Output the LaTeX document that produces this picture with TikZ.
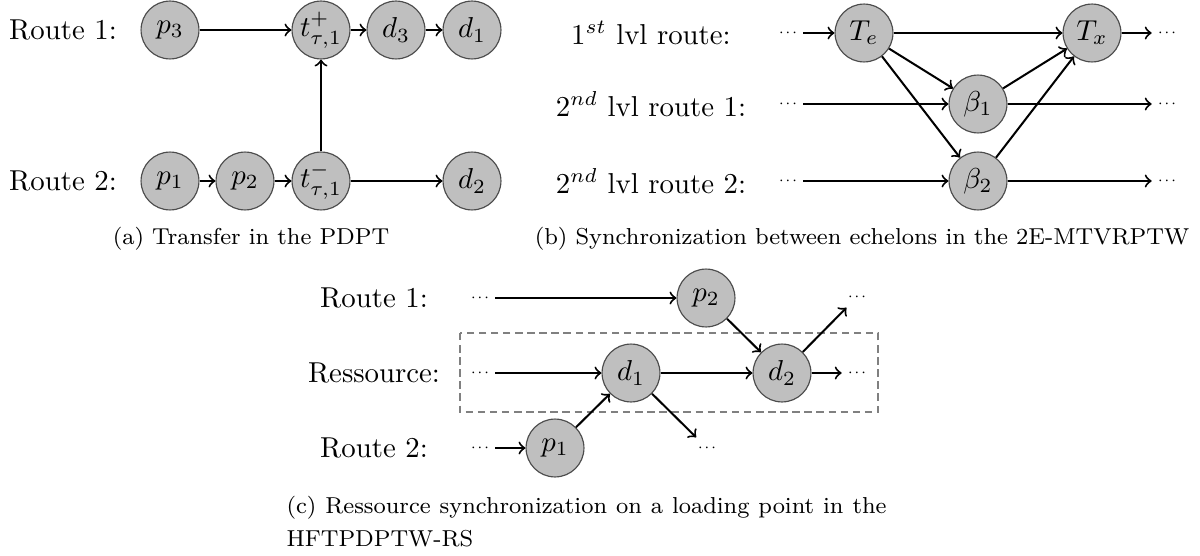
\documentclass[tikz,border=0pt]{standalone}
\begin{document}
\begin{tikzpicture}[x=0.3472pt,y=-0.3472pt,
  st/.style={circle, draw=black!70, fill=black!25, line width=0.4pt, minimum size=20.1pt, inner sep=0pt, font=\normalsize},
  dd/.style={font=\tiny, minimum height=7pt, inner sep=1.67pt},
  ar/.style={->, line width=0.7pt},
  lbl/.style={font=\normalsize, inner sep=0pt},
  captxt/.style={font=\fontsize{8}{10}\selectfont, inner sep=0pt},
  dashbox/.style={draw=black!50, line width=0.4pt, dash pattern=on 2.6pt off 1.6pt}]
\newcommand{\ddd}{${\cdot}{\cdot}{\cdot}$}
\useasboundingbox (0,0) rectangle (1200,556);
% ---------- (a)
\node[lbl] (la1) at (63,30) {Route 1:};
\node[lbl] (la2) at (63,181) {Route 2:};
\node[st] (p3) at (170,30) {$p_3$};
\node[st] (tp) at (321,30) {$t^+_{\tau,1}$};
\node[st] (d3) at (396,30) {$d_3$};
\node[st] (d1a) at (472,30) {$d_1$};
\node[st] (p1a) at (170,181) {$p_1$};
\node[st] (p2a) at (245,181) {$p_2$};
\node[st] (tm) at (321,181) {$t^-_{\tau,1}$};
\node[st] (d2a) at (472,181) {$d_2$};
\draw[ar] (p3) -- (tp);
\draw[ar] (tp) -- (d3);
\draw[ar] (d3) -- (d1a);
\draw[ar] (p1a) -- (p2a);
\draw[ar] (p2a) -- (tm);
\draw[ar] (tm) -- (d2a);
\draw[ar] (tm) -- (tp);
\node[captxt, anchor=base] (capa) at (251,244) {(a) Transfer in the PDPT};
% ---------- (b)
\node[lbl] (lb1) at (651,33) {$1^{st}$ lvl route:};
\node[lbl] (lb2) at (651,104) {$2^{nd}$ lvl route 1:};
\node[lbl] (lb3) at (651,181) {$2^{nd}$ lvl route 2:};
\node[dd] (bl1) at (788,33) {\ddd};
\node[dd] (bl2) at (788,104) {\ddd};
\node[dd] (bl3) at (788,181) {\ddd};
\node[dd] (br1) at (1167,33) {\ddd};
\node[dd] (br2) at (1167,104) {\ddd};
\node[dd] (br3) at (1167,181) {\ddd};
\node[st] (Te) at (864,33) {$T_e$};
\node[st] (Tx) at (1092,33) {$T_x$};
\node[st] (b1) at (978,104) {$\beta_1$};
\node[st] (b2) at (978,181) {$\beta_2$};
\draw[ar] (bl1) -- (Te);
\draw[ar] (Te) -- (Tx);
\draw[ar] (Tx) -- (br1);
\draw[ar] (bl2) -- (b1);
\draw[ar] (b1) -- (br2);
\draw[ar] (bl3) -- (b2);
\draw[ar] (b2) -- (br3);
\draw[ar] (Te) -- (b1);
\draw[ar] (Te) -- (b2);
\draw[ar] (b1) -- (Tx);
\draw[ar] (b2) -- (Tx);
\node[captxt, anchor=base] (capb) at (862,244) {(b) Synchronization between echelons in the 2E-MTVRPTW};
% ---------- (c)
\draw[dashbox] (460,333) rectangle (878,412);
\node[lbl] (lc1) at (374,298) {Route 1:};
\node[lbl] (lc2) at (374,373) {Ressource:};
\node[lbl] (lc3) at (374,448) {Route 2:};
\node[dd] (cl1) at (480,298) {\ddd};
\node[dd] (cl2) at (480,373) {\ddd};
\node[dd] (cl3) at (480,448) {\ddd};
\node[dd] (cu) at (857,297) {\ddd};
\node[dd] (cr) at (857,373) {\ddd};
\node[dd] (cd) at (707,448) {\ddd};
\node[st] (p2c) at (706,298) {$p_2$};
\node[st] (d1c) at (631,373) {$d_1$};
\node[st] (d2c) at (782,373) {$d_2$};
\node[st] (p1c) at (555,448) {$p_1$};
\draw[ar] (cl1) -- (p2c);
\draw[ar] (cl2) -- (d1c);
\draw[ar] (d1c) -- (d2c);
\draw[ar] (d2c) -- (cr);
\draw[ar] (cl3) -- (p1c);
\draw[ar] (p1c) -- (d1c);
\draw[ar] (d1c) -- (cd);
\draw[ar] (p2c) -- (d2c);
\draw[ar] (d2c) -- (cu);
\node[captxt, anchor=base west] (capc1) at (286,513) {\makebox[208.3pt][s]{(c) Ressource synchronization on a loading point in the}};
\node[captxt, anchor=base west] (capc2) at (286,546) {HFTPDPTW-RS};
\end{tikzpicture}
\end{document}
